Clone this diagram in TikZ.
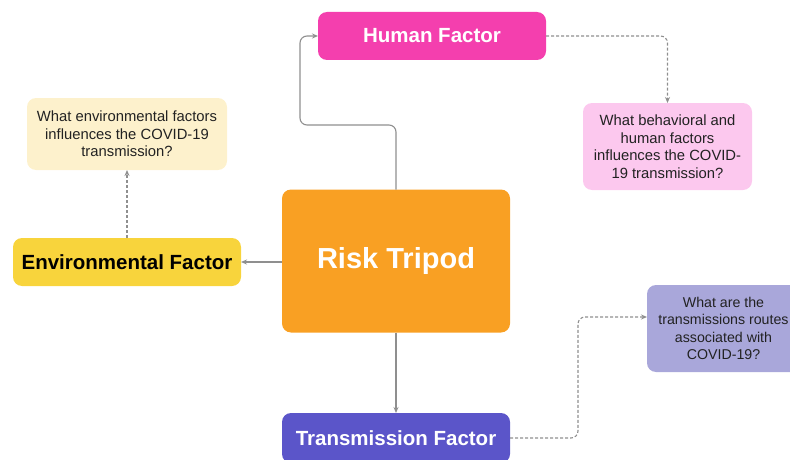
\documentclass[tikz,border=0pt]{standalone}
\usepackage{fontspec}
\setmainfont{Liberation Sans}
\usetikzlibrary{arrows.meta}
\definecolor{hpink}{HTML}{F43FAE}
\definecolor{lpink}{HTML}{FCC8EE}
\definecolor{lyel}{HTML}{FDF1CC}
\definecolor{yel}{HTML}{F8D43C}
\definecolor{orng}{HTML}{F9A023}
\definecolor{purp}{HTML}{5B55C9}
\definecolor{lav}{HTML}{A9A7DA}
\definecolor{conn}{HTML}{8F8F8F}
\definecolor{qtext}{HTML}{222222}
\begin{document}
\begin{tikzpicture}[x=1pt,y=-1pt,
  boxstyle/.style={rounded corners=9pt, inner sep=0pt, outer sep=0pt},
  mainbox/.style={boxstyle, font=\fontsize{20.5}{24}\selectfont\bfseries, text=white},
  qbox/.style={boxstyle, font=\fontsize{14.8}{17.5}\selectfont, text=qtext, align=center},
  solidarrow/.style={draw=conn, line width=1.1pt, rounded corners=7pt, -{Stealth[length=6pt,width=5pt]}},
  dasharrow/.style={draw=conn, line width=1.1pt, dashed, dash pattern=on 3pt off 2pt, rounded corners=7pt, -{Stealth[length=6pt,width=5pt]}}]
\useasboundingbox (0,0) rectangle (790,460);
\clip (0,0) rectangle (790,460);
% nodes
\node[mainbox, fill=hpink, minimum width=228pt, minimum height=48pt] (human) at (432,36) {Human Factor};
\node[qbox, fill=lpink, minimum width=169pt, minimum height=87pt] (humq) at (667.5,146.5) {What behavioral and\\human factors\\influences the COVID-\\19 transmission?};
\node[qbox, fill=lyel, minimum width=200pt, minimum height=72pt] (envq) at (127,134) {What environmental factors\\influences the COVID-19\\transmission?};
\node[mainbox, fill=yel, text=black, minimum width=228pt, minimum height=48pt] (env) at (127,262) {Environmental Factor};
\node[mainbox, fill=orng, minimum width=228pt, minimum height=143pt, font=\fontsize{29}{34}\selectfont\bfseries] (risk) at (396,261) {Risk Tripod};
\node[mainbox, fill=purp, minimum width=228pt, minimum height=50pt] (trans) at (396,438) {Transmission Factor};
\node[qbox, fill=lav, minimum width=154pt, minimum height=87pt] (transq) at (724,328.5) {};
\node[font=\fontsize{14.2}{17.5}\selectfont, text=qtext, align=center, inner sep=0pt] (transqtext) at (723.5,328.5) {What are the\\transmissions routes\\associated with\\COVID-19?};
% connectors
\coordinate (hbend) at (300,125);
\coordinate (tbend) at (578,317);
\draw[solidarrow] (risk.north) -- (risk.north |- hbend) -- (hbend) -- (hbend |- human.west) -- (human.west);
\draw[solidarrow] (risk.west |- env.east) -- (env.east);
\draw[solidarrow] (risk.south) -- (trans.north);
\draw[dasharrow] (human.east) -- (human.east -| humq.north) -- (humq.north);
\draw[dasharrow] (env.north) -- (envq.south);
\draw[dasharrow] (trans.east) -- (trans.east -| tbend) -- (tbend) -- (tbend -| transq.west);
\end{tikzpicture}
\end{document}
